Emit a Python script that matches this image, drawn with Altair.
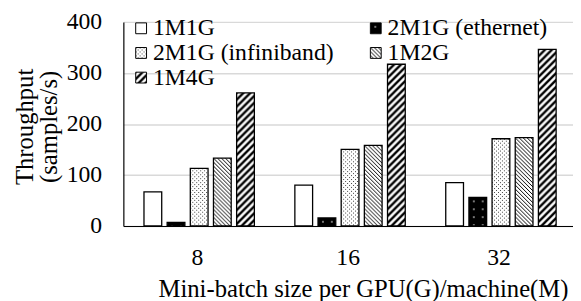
import base64
import altair as alt
import pandas as pd

# ---- data ----
batches = ["8", "16", "32"]
series = ["1M1G", "2M1G (ethernet)", "2M1G (infiniband)", "1M2G", "1M4G"]
v_1m1g = [67, 80, 85]
v_eth = [7, 16, 56]
v_ib = [113, 150, 171]
v_1m2g = [133, 158, 173]
v_1m4g = [261, 317, 346]
y_ticks = [0, 100, 200, 300, 400]

values = [v_1m1g, v_eth, v_ib, v_1m2g, v_1m4g]

FONT = "Liberation Serif"


def pattern_uri(w, h, body):
    svg = (
        '<svg xmlns="http://www.w3.org/2000/svg" width="100%" height="100%">'
        f'<defs><pattern id="p" patternUnits="userSpaceOnUse" width="{w}" height="{h}">'
        f"{body}</pattern></defs>"
        '<rect width="100%" height="100%" fill="url(#p)"/></svg>'
    )
    return "data:image/svg+xml;base64," + base64.b64encode(svg.encode()).decode()


patterns = {
    "1M1G": pattern_uri(4, 4, '<rect width="4" height="4" fill="#fff"/>'),
    "2M1G (ethernet)": pattern_uri(
        9, 8, '<rect width="9" height="8" fill="#000"/><rect x="4" y="3" width="2" height="2" fill="#777"/>'
    ),
    "2M1G (infiniband)": pattern_uri(
        4, 4,
        '<rect width="4" height="4" fill="#fff"/>'
        '<rect x="0" y="0" width="1" height="1" fill="#444"/>'
        '<rect x="2" y="2" width="1" height="1" fill="#444"/>',
    ),
    "1M2G": pattern_uri(
        4, 4,
        '<rect width="4" height="4" fill="#fff"/>'
        '<path d="M0,0 L4,4 M-1,3 L1,5 M3,-1 L5,1" stroke="#000" stroke-width="1"/>',
    ),
    "1M4G": pattern_uri(
        7, 7,
        '<rect width="7" height="7" fill="#fff"/>'
        '<path d="M0,7 L7,0 M-2,2 L2,-2 M5,9 L9,5" stroke="#000" stroke-width="2.4"/>',
    ),
}

rows = []
for s, vals in zip(series, values):
    for b, v in zip(batches, vals):
        rows.append({"batch": b, "series": s, "value": v, "url": patterns[s]})
df = pd.DataFrame(rows)

leg_rows = []
for i, s in enumerate(series):
    r, c = divmod(i, 2)
    leg_rows.append({"series": s, "lx": 18 + c * 238, "ly": 6.5 + r * 25, "url": patterns[s]})
leg = pd.DataFrame(leg_rows)

x_enc = alt.X(
    "batch:N",
    sort=batches,
    scale=alt.Scale(paddingInner=0.02, paddingOuter=0),
    axis=alt.Axis(
        title="Mini-batch size per GPU(G)/machine(M)",
        labelAngle=0,
        ticks=False,
        grid=False,
        domainColor="#000",
        domainWidth=1.2,
        labelFont=FONT,
        labelFontSize=24,
        labelColor="#000",
        labelPadding=20,
        titleFont=FONT,
        titleFontSize=25,
        titleFontWeight="normal",
        titleColor="#000",
        titleBaseline="alphabetic",
        titleX=243,
        titleY=71,
    ),
)
xoff_enc = alt.XOffset(
    "series:N",
    sort=series,
    scale=alt.Scale(paddingInner=0.234, paddingOuter=0.809, align=0.55),
)
y_enc = alt.Y(
    "value:Q",
    scale=alt.Scale(domain=[0, 400], nice=False),
    axis=alt.Axis(
        values=y_ticks,
        title=["Throughput", "(samples/s)"],
        ticks=False,
        grid=True,
        gridColor="#d9d9d9",
        gridWidth=1.5,
        domainColor="#000",
        domainWidth=1.2,
        labelFont=FONT,
        labelFontSize=24,
        labelColor="#000",
        labelPadding=22,
        titleFont=FONT,
        titleFontSize=25,
        titleFontWeight="normal",
        titleColor="#000",
        titleBaseline="alphabetic",
        titleAlign="center",
        titleLineHeight=24,
        titleX=-92,
        titleY=106,
    ),
)

img = alt.Chart(df).mark_image(aspect=False).encode(
    x=x_enc, xOffset=xoff_enc, y=y_enc, y2=alt.datum(0), url="url:N"
)
outline = alt.Chart(df).mark_bar(fillOpacity=0, stroke="#000", strokeWidth=1.3).encode(
    x=x_enc, xOffset=xoff_enc, y=y_enc
)
bars = alt.layer(img, outline)

lx = alt.X("lx:Q", scale=None, axis=None)
ly = alt.Y("ly:Q", scale=None, axis=None)
leg_img = alt.Chart(leg).mark_image(
    width=11, height=11, aspect=False, align="center", baseline="middle"
).encode(x=lx, y=ly, url="url:N")
leg_box = alt.Chart(leg).mark_point(
    shape="square", size=121, filled=False, stroke="#000", strokeWidth=1, opacity=1
).encode(x=lx, y=ly)
leg_txt = alt.Chart(leg).mark_text(
    align="left", baseline="middle", font=FONT, fontSize=24, dx=12, color="#000"
).encode(x=lx, y=ly, text="series:N")
legend = alt.layer(leg_img, leg_box, leg_txt)

chart = (
    alt.layer(bars, legend)
    .resolve_scale(x="independent", y="independent")
    .properties(
        width=456,
        height=207,
        autosize=alt.AutoSizeParams(type="none"),
        padding={"left": 117, "top": 12, "right": 0, "bottom": 76},
        background="#ffffff",
    )
    .configure_view(stroke=None)
)

chart.save("out.html", embed_options={"renderer": "svg", "actions": False})
